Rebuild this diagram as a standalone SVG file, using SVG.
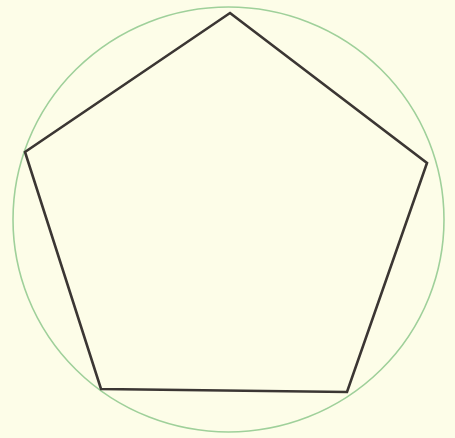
<svg xmlns="http://www.w3.org/2000/svg" width="455" height="438" viewBox="0 0 455 438">
<style>
.bg{fill:#fdfde8}
.circ{fill:none;stroke:#9fd09a;stroke-width:1.6}
.pent{fill:none;stroke:#3b3633;stroke-width:2.6;stroke-linejoin:miter}
</style>
<rect class="bg" x="0" y="0" width="455" height="438"/>
<g id="circle"><ellipse class="circ" cx="228.5" cy="219.5" rx="215.5" ry="212.5"/></g>
<g id="pentagon"><polygon class="pent" points="230,13 427,163 347,392 101,389 25,152"/></g>
</svg>
